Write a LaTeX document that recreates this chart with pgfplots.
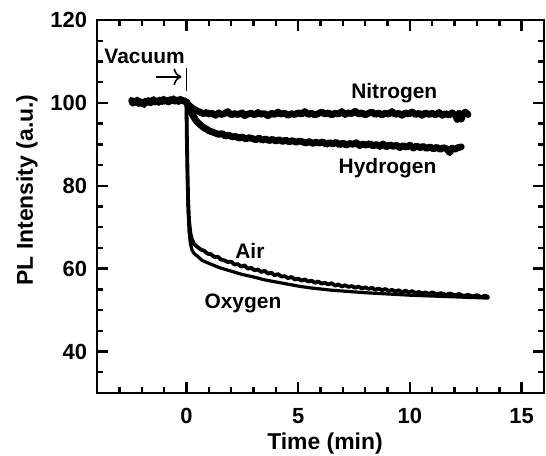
\documentclass[border=0pt]{standalone}
\usepackage{pgfplots}
\pgfplotsset{compat=1.18}
\usetikzlibrary{arrows.meta}
\usepackage{fontspec}
\setmainfont{Liberation Sans}
\begin{document}
\begin{tikzpicture}
\useasboundingbox (0,0) rectangle (273bp,228bp);
\begin{axis}[
  at={(48.5bp,31.5bp)}, anchor=south west,
  width=223.5bp, height=186.5bp, scale only axis,
  xmin=-4, xmax=16, ymin=30, ymax=120,
  xtick={0,5,10,15}, ytick={40,60,80,100,120},
  minor xtick={-4,...,16}, minor ytick={30,35,...,120},
  tick align=inside, tickwidth=5.5bp, subtickwidth=3bp,
  axis line style={line width=1bp},
  xtick style={draw=black, line width=1.2bp},
  ytick style={draw=black, line width=1.2bp},
  /pgf/number format/assume math mode=true,
  tick label style={font=\fontsize{11}{13}\selectfont\bfseries},
  yticklabel style={xshift=-1.5bp},
  xticklabel style={yshift=-4bp},
  xlabel={Time (min)}, ylabel={PL Intensity (a.u.)},
  label style={font=\fontsize{11.5}{14}\selectfont\bfseries},
  xlabel style={at={(axis description cs:0.51,-0.135)}, anchor=center},
  ylabel style={at={(axis description cs:-0.1566,0.544)}, anchor=center},
  every axis plot/.append style={line join=round, line cap=round},
  clip=false,
]
% shared pre-vacuum segment
\addplot[black, line width=3.4bp] coordinates {
(-2.45,100.6) (-2.4,99.9) (-2.33,100.4) (-2.28,100.1) (-2.2,100.7) (-2.12,99.8) (-2.05,100.3)
(-1.98,100.0) (-1.9,99.6) (-1.84,100.4) (-1.75,100.1) (-1.7,100.6) (-1.6,100.0) (-1.55,100.3)
(-1.47,100.8) (-1.4,100.2) (-1.33,100.5) (-1.25,100.1) (-1.18,100.7) (-1.1,100.3) (-1.02,100.9)
(-0.95,100.4) (-0.88,100.6) (-0.8,100.2) (-0.72,100.8) (-0.65,100.5) (-0.58,101.0) (-0.5,100.4)
(-0.42,100.7) (-0.35,100.3) (-0.27,100.9) (-0.2,100.5) (-0.12,100.6) (-0.05,100.3) (0,100.2)};
% Nitrogen
\addplot[black, line width=3.4bp] coordinates {
(0,100.2) (0.1,99.5) (0.2,99.0) (0.3,98.6) (0.4,98.3) (0.5,98.0) (0.6,97.8) (0.75,97.4)
(0.9,97.7) (1.0,97.3) (1.15,97.5) (1.3,97.0) (1.45,97.6) (1.55,97.2) (1.7,97.4) (1.85,97.9)
(2.0,97.1) (2.15,97.4) (2.3,97.2) (2.5,97.6) (2.6,96.9) (2.75,97.3) (2.9,97.5) (3.05,97.1)
(3.2,97.7) (3.3,97.3) (3.5,97.4) (3.65,96.9) (3.8,97.5) (3.95,97.2) (4.1,97.8) (4.2,97.3)
(4.4,97.5) (4.55,97.0) (4.7,97.4) (4.85,97.2) (5.0,97.6) (5.15,97.3) (5.3,97.9) (5.45,97.2)
(5.6,97.5) (5.75,97.1) (5.9,97.4) (6.05,97.8) (6.2,97.3) (6.35,97.6) (6.5,97.1) (6.65,97.5)
(6.8,97.3) (6.95,97.9) (7.1,97.2) (7.25,97.6) (7.4,97.4) (7.55,98.0) (7.7,97.3) (7.85,97.6)
(8.0,97.1) (8.15,97.5) (8.3,97.8) (8.45,97.2) (8.6,97.6) (8.75,97.1) (8.9,97.5) (9.05,97.3)
(9.2,97.9) (9.35,97.2) (9.5,97.5) (9.65,97.0) (9.8,97.6) (9.95,97.3) (10.1,97.8) (10.25,97.2)
(10.4,97.5) (10.55,97.0) (10.7,97.6) (10.85,97.2) (11.0,97.5) (11.15,97.1) (11.3,97.7)
(11.45,97.0) (11.6,97.4) (11.75,97.1) (11.9,97.6) (12.05,96.9) (12.12,96.0) (12.2,97.5)
(12.3,96.1) (12.38,97.3) (12.48,97.8) (12.6,97.2)};
% Hydrogen
\addplot[black, line width=3.4bp] coordinates {
(0,100.2) (0.1,99.0) (0.2,97.8) (0.3,96.9) (0.4,96.0) (0.5,95.3) (0.6,94.8) (0.7,94.4)
(0.8,93.9) (0.9,93.7) (1.0,93.3) (1.15,93.0) (1.3,92.7) (1.45,92.4) (1.6,92.6) (1.75,92.0)
(1.9,92.2) (2.05,91.8) (2.2,91.9) (2.35,91.5) (2.5,91.8) (2.65,91.3) (2.8,91.6) (2.95,91.4)
(3.1,91.1) (3.25,91.5) (3.4,91.0) (3.55,91.3) (3.7,90.9) (3.85,91.2) (4.0,90.8) (4.15,91.1)
(4.3,90.7) (4.45,91.0) (4.6,90.6) (4.75,90.9) (4.9,90.5) (5.05,90.8) (5.2,90.6) (5.35,90.3)
(5.5,90.7) (5.65,90.2) (5.8,90.5) (5.95,90.3) (6.1,90.6) (6.25,90.0) (6.4,90.4) (6.55,90.1)
(6.7,90.5) (6.85,89.9) (7.0,90.3) (7.15,89.8) (7.3,90.2) (7.45,90.0) (7.6,90.4) (7.75,89.7)
(7.9,90.1) (8.05,89.8) (8.2,90.2) (8.35,89.6) (8.5,90.0) (8.65,89.5) (8.8,90.1) (8.95,89.4)
(9.1,89.9) (9.25,89.5) (9.4,89.8) (9.55,89.2) (9.7,89.7) (9.85,89.3) (10.0,89.8) (10.15,89.1)
(10.3,89.6) (10.45,89.2) (10.6,89.5) (10.75,89.0) (10.9,89.4) (11.05,88.9) (11.2,89.3)
(11.35,88.8) (11.5,89.2) (11.65,88.9) (11.78,88.0) (11.88,89.1) (12.0,88.8) (12.15,89.2)
(12.3,89.4)};
% Air
\addplot[black, line width=1.9bp] coordinates {
(0,100.2) (0.02,92) (0.05,83) (0.08,76) (0.12,71.5) (0.18,68.5) (0.25,67.0) (0.35,65.9)
(0.5,65.2) (0.65,64.6) (0.8,64.3) (0.95,63.6) (1.1,63.5) (1.25,62.8) (1.4,62.9) (1.55,62.2)
(1.7,62.0) (1.85,61.6) (2.0,61.7) (2.15,61.0) (2.3,61.1) (2.45,60.5) (2.6,60.8) (2.75,60.0)
(2.9,60.2) (3.05,59.6) (3.2,59.8) (3.35,59.2) (3.5,59.5) (3.65,58.8) (3.8,59.0) (3.95,58.4)
(4.1,58.7) (4.25,58.1) (4.4,58.2) (4.55,57.7) (4.7,58.0) (4.85,57.4) (5.0,57.6) (5.15,57.1)
(5.3,57.4) (5.45,56.9) (5.6,57.1) (5.75,56.6) (5.9,56.9) (6.05,56.4) (6.2,56.6) (6.35,56.2)
(6.5,56.5) (6.65,55.9) (6.8,56.2) (6.95,55.7) (7.1,56.0) (7.25,55.6) (7.4,55.8) (7.55,55.4)
(7.7,55.7) (7.85,55.2) (8.0,55.5) (8.15,55.1) (8.3,55.4) (8.45,54.9) (8.6,55.2) (8.75,54.8)
(8.9,55.1) (9.05,54.6) (9.2,54.9) (9.35,54.5) (9.5,54.8) (9.65,54.3) (9.8,54.7) (9.95,54.3)
(10.1,54.6) (10.25,54.1) (10.4,54.4) (10.55,54.0) (10.7,54.3) (10.85,53.9) (11.0,54.3)
(11.2,53.8) (11.4,54.1) (11.6,53.7) (11.8,54.0) (12.0,53.6) (12.2,53.9) (12.4,53.4)
(12.6,53.7) (12.8,53.3) (13.0,53.6) (13.2,53.1) (13.35,53.5) (13.5,53.2)};
% Oxygen
\addplot[black, line width=1.6bp] coordinates {
(0,100.2) (0.02,91) (0.05,81) (0.08,74) (0.12,69) (0.18,66) (0.25,64.5) (0.35,63.6)
(0.5,63.0) (0.7,62.0) (1.0,61.3) (1.5,60.2) (2.0,59.4) (2.5,58.6) (3.0,58.0) (3.5,57.3)
(4.0,56.8) (4.5,56.3) (5.0,55.8) (5.5,55.4) (6.0,55.1) (6.5,54.8) (7.0,54.6) (8.0,54.2)
(9.0,53.9) (10.0,53.6) (11.0,53.4) (12.0,53.2) (13.0,53.0) (13.5,52.9)};
% annotations
\begin{scope}[font=\fontsize{10.5}{12}\selectfont\bfseries]
\node at (axis cs:-1.87,111.2) {Vacuum};
\node at (axis cs:9.3,102.4) {Nitrogen};
\node at (axis cs:9.0,84.2) {Hydrogen};
\node at (axis cs:2.84,64.4) {Air};
\node at (axis cs:2.53,51.5) {Oxygen};
\end{scope}
\draw[-{To[length=4bp]}, line width=0.8bp] (axis cs:-1.38,106.3) -- (axis cs:-0.22,106.3);
\draw[line width=0.8bp] (axis cs:0,108.5) -- (axis cs:0,102.9);
\end{axis}
\end{tikzpicture}
\end{document}
